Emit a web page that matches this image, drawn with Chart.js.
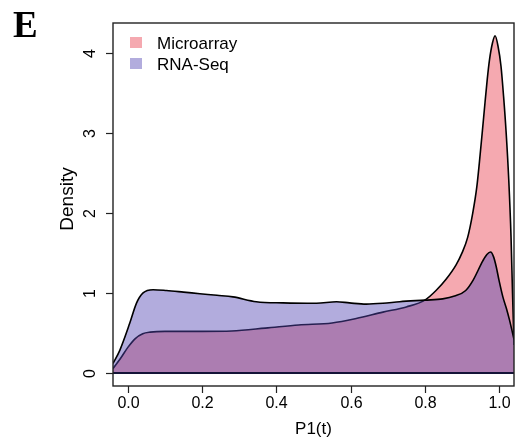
<!DOCTYPE html>
<html>
<head>
<meta charset="utf-8">
<script src="https://cdn.jsdelivr.net/npm/chart.js@4/dist/chart.umd.min.js"></script>
<style>
  html, body { margin: 0; padding: 0; background: #fff; }
  #wrap { width: 515px; height: 437px; }
</style>
</head>
<body>
<div id="wrap"><canvas id="densityChart" width="515" height="437"></canvas></div>
<script>
// density curves
const microX = [-0.04, -0.02, 0.0, 0.02, 0.04, 0.06, 0.1, 0.2, 0.28, 0.37, 0.46, 0.55, 0.615, 0.687, 0.75, 0.8, 0.83, 0.857, 0.884, 0.9, 0.915, 0.929, 0.94, 0.947, 0.955, 0.962, 0.968, 0.974, 0.982, 0.989, 0.997, 1.005, 1.012, 1.019, 1.026, 1.032, 1.036, 1.04];
const microY = [0.055, 0.18, 0.32, 0.43, 0.49, 0.51, 0.52, 0.52, 0.525, 0.56, 0.60, 0.625, 0.68, 0.76, 0.825, 0.91, 1.03, 1.17, 1.35, 1.5, 1.69, 2.0, 2.33, 2.64, 3.03, 3.38, 3.67, 3.91, 4.12, 4.21, 4.08, 3.83, 3.45, 2.99, 2.4, 1.7, 1.0, 0.35];

const rnaX = [-0.04, -0.022, 0.005, 0.023, 0.041, 0.068, 0.104, 0.15, 0.194, 0.24, 0.283, 0.346, 0.418, 0.508, 0.562, 0.597, 0.642, 0.687, 0.732, 0.8, 0.848, 0.88, 0.91, 0.93, 0.956, 0.967, 0.977, 0.985, 0.992, 1.0, 1.01, 1.02, 1.028, 1.04];
const rnaY = [0.12, 0.28, 0.62, 0.87, 1.0, 1.04, 1.03, 1.01, 0.99, 0.97, 0.95, 0.89, 0.875, 0.87, 0.89, 0.875, 0.86, 0.87, 0.89, 0.91, 0.925, 0.96, 1.03, 1.16, 1.4, 1.48, 1.51, 1.45, 1.33, 1.15, 0.95, 0.8, 0.66, 0.42];

const seriesNames = ['Microarray', 'RNA-Seq'];
const xTicks = [0, 0.2, 0.4, 0.6, 0.8, 1.0];
const yTicks = [0, 1, 2, 3, 4];

const pinkFill = '#F5A9B0';
const blueFill = 'rgba(85, 72, 180, 0.45)';
const sans = '"Liberation Sans", Arial, Helvetica, sans-serif';

function toPoints(xs, ys) {
  return xs.map((x, i) => ({ x: x, y: ys[i] }));
}

// R-style box, axes, labels and legend
const rFrame = {
  id: 'rFrame',
  afterDraw(chart) {
    const ctx = chart.ctx;
    const a = chart.chartArea;
    const xs = chart.scales.x;
    const ys = chart.scales.y;
    ctx.save();

    // baseline of the density polygons
    const y0 = ys.getPixelForValue(0);
    ctx.strokeStyle = '#141438';
    ctx.lineWidth = 2;
    ctx.beginPath();
    ctx.moveTo(a.left, y0);
    ctx.lineTo(a.right, y0);
    ctx.stroke();

    // box
    ctx.strokeStyle = '#222';
    ctx.lineWidth = 1.4;
    ctx.strokeRect(a.left, a.top, a.right - a.left, a.bottom - a.top);

    ctx.fillStyle = '#000';
    ctx.strokeStyle = '#222';
    ctx.lineWidth = 1.2;

    // x ticks
    ctx.font = '16px ' + sans;
    ctx.textAlign = 'center';
    ctx.textBaseline = 'middle';
    xTicks.forEach(v => {
      const px = Math.round(xs.getPixelForValue(v)) + 0.5;
      ctx.beginPath();
      ctx.moveTo(px, a.bottom);
      ctx.lineTo(px, a.bottom + 7);
      ctx.stroke();
      ctx.fillText(v.toFixed(1), px, 404);
    });

    // y ticks, labels turned like R
    yTicks.forEach(v => {
      const py = Math.round(ys.getPixelForValue(v)) + 0.5;
      ctx.beginPath();
      ctx.moveTo(a.left - 7, py);
      ctx.lineTo(a.left, py);
      ctx.stroke();
      ctx.save();
      ctx.translate(91, py);
      ctx.rotate(-Math.PI / 2);
      ctx.fillText(String(v), 0, 0);
      ctx.restore();
    });

    // axis titles
    ctx.font = '17px ' + sans;
    ctx.fillText('P1(t)', (a.left + a.right) / 2, 429);
    ctx.save();
    ctx.translate(68, 199);
    ctx.rotate(-Math.PI / 2);
    ctx.font = '19px ' + sans;
    ctx.fillText('Density', 0, 0);
    ctx.restore();

    // legend
    const legendFills = [pinkFill, blueFill];
    ctx.textAlign = 'left';
    seriesNames.forEach((name, i) => {
      const ty = 37 + i * 21;
      ctx.fillStyle = '#fff';
      ctx.fillRect(130, ty, 12, 11);
      ctx.fillStyle = legendFills[i];
      ctx.fillRect(130, ty, 12, 11);
      ctx.fillStyle = '#000';
      ctx.fillText(name, 157, ty + 7);
    });

    // panel letter
    ctx.font = 'bold 37px "Liberation Serif", "Times New Roman", serif';
    ctx.textBaseline = 'alphabetic';
    ctx.fillText('E', 13, 37);

    ctx.restore();
  }
};

const ctx = document.getElementById('densityChart').getContext('2d');
const densityChart = new Chart(ctx, {
  type: 'line',
  data: {
    datasets: [
      {
        label: seriesNames[1],
        data: toPoints(rnaX, rnaY),
        order: 1,
        fill: 'origin',
        backgroundColor: blueFill,
        borderColor: '#000',
        borderWidth: 1.6,
        pointRadius: 0,
        cubicInterpolationMode: 'monotone'
      },
      {
        label: seriesNames[0],
        data: toPoints(microX, microY),
        order: 2,
        fill: 'origin',
        backgroundColor: pinkFill,
        borderColor: '#000',
        borderWidth: 1.6,
        pointRadius: 0,
        cubicInterpolationMode: 'monotone'
      }
    ]
  },
  options: {
    responsive: false,
    animation: false,
    layout: { padding: { left: 113, top: 23, right: 1, bottom: 51 } },
    plugins: {
      legend: { display: false },
      tooltip: { enabled: false }
    },
    scales: {
      x: { type: 'linear', min: -0.04, max: 1.04, display: false },
      y: { type: 'linear', min: -0.1625, max: 4.37, display: false }
    }
  },
  plugins: [rFrame]
});
</script>
</body>
</html>
